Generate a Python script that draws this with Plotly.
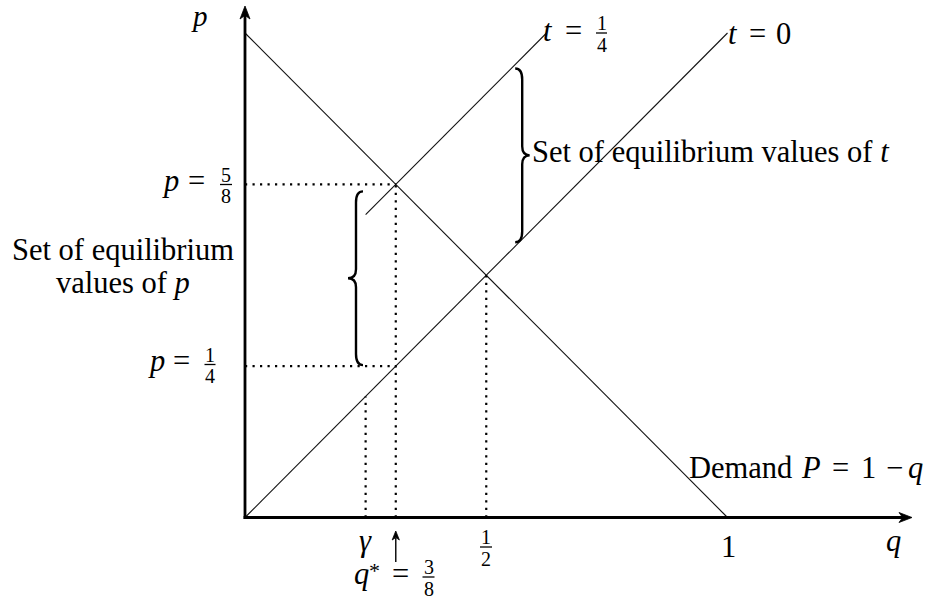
import plotly.graph_objects as go

# ---------------- data (as drawn) ----------------
q_line = [0.0, 1.0]
demand_p = [1.0, 0.0]            # Demand P = 1 - q
supply0_p = [0.0, 1.0]           # t = 0
supply1_q = [0.25, 0.625]        # t = 1/4 (drawn segment)
supply1_p = [0.625, 1.0]
q_gamma = 0.25
q_star = 0.3125
q_half = 0.5
p_low = 0.3125
p_high = 0.6875
p_half = 0.5
q_brace_t = 0.56                 # where the t-brace spans the two supply lines

# ---------------- pixel <-> data mapping ----------------
W, H = 927, 602
X0, XU = 245.0, 482.5            # pixel of q=0, pixels per unit q
Y0, YU = 517.5, 484.5            # pixel of p=0, pixels per unit p


def qx(px):
    return (px - X0) / XU


def py(px):
    return (Y0 - px) / YU


FONT = "Liberation Serif"
BLACK = "#000000"
MAIN = 30.5

fig = go.Figure()

# main curves
for xs, ys in [(q_line, demand_p), (q_line, supply0_p), (supply1_q, supply1_p)]:
    fig.add_trace(go.Scatter(x=xs, y=ys, mode="lines",
                             line=dict(color="#111", width=1.1), hoverinfo="skip"))

# dotted guide lines
dot = dict(color=BLACK, width=2.2, dash="2.2px,5.3px")
for xs, ys in [
    ([0, q_star], [p_high, p_high]),
    ([0, q_star], [p_low, p_low]),
    ([q_star, q_star], [0, p_high]),
    ([q_gamma, q_gamma], [0, q_gamma]),
    ([q_half, q_half], [0, p_half]),
]:
    fig.add_trace(go.Scatter(x=xs, y=ys, mode="lines", line=dot, hoverinfo="skip"))

shapes = []


def brace(x_end, x_shaft, x_tip, y_top, y_bot, r_end, r_mid):
    ym = (y_top + y_bot) / 2
    return (f"M{x_end},{y_top} Q{x_shaft},{y_top} {x_shaft},{y_top - r_end} "
            f"L{x_shaft},{ym + r_mid} Q{x_shaft},{ym} {x_tip},{ym} "
            f"Q{x_shaft},{ym} {x_shaft},{ym - r_mid} L{x_shaft},{y_bot + r_end} "
            f"Q{x_shaft},{y_bot} {x_end},{y_bot}")


# left brace: set of equilibrium values of p
shapes.append(dict(type="path", xref="x", yref="y",
                   path=brace(qx(363), qx(356), qx(348),
                              p_high - 7 / YU, p_low + 1 / YU, 11 / YU, 9 / YU),
                   line=dict(color=BLACK, width=2.4)))
# right brace: set of equilibrium values of t
tb_top = q_brace_t + (supply1_p[0] - supply1_q[0]) - 4 / YU
tb_bot = q_brace_t + 4 / YU
shapes.append(dict(type="path", xref="x", yref="y",
                   path=brace(q_brace_t, q_brace_t + 7 / XU, q_brace_t + 14.5 / XU,
                              tb_top, tb_bot, 11 / YU, 9 / YU),
                   line=dict(color=BLACK, width=2.4)))


def head(tip_x, tip_y, direction, length, half):
    """LaTeX-like arrow head (filled), tip in data coords, sizes in px."""
    tx, ty = tip_x, tip_y
    if direction == "right":
        pts = [(tx, ty), (tx - length / XU, ty + half / YU),
               (tx - 0.72 * length / XU, ty), (tx - length / XU, ty - half / YU)]
    else:  # up
        pts = [(tx, ty), (tx - half / XU, ty - length / YU),
               (tx, ty - 0.72 * length / YU), (tx + half / XU, ty - length / YU)]
    path = "M" + " L".join(f"{a},{b}" for a, b in pts) + " Z"
    return dict(type="path", xref="x", yref="y", path=path,
                fillcolor=BLACK, line=dict(color=BLACK, width=0.8))


# axes lines
shapes.append(dict(type="line", xref="x", yref="y", x0=qx(X0 - 1.4), y0=0,
                   x1=qx(904), y1=0, line=dict(color=BLACK, width=2.8)))
shapes.append(dict(type="line", xref="x", yref="y", x0=0, y0=py(Y0 + 1.4),
                   x1=0, y1=py(14), line=dict(color=BLACK, width=2.8)))
shapes.append(head(qx(912), 0, "right", 13, 5))
shapes.append(head(0, py(6), "up", 13, 5))
# q* arrow
shapes.append(dict(type="line", xref="x", yref="y", x0=q_star, y0=py(562),
                   x1=q_star, y1=py(538), line=dict(color=BLACK, width=1.4)))
shapes.append(head(q_star, py(531), "up", 9, 3.6))

annotations = []


def txt(s, xc, base, size=MAIN, anchor="center"):
    annotations.append(dict(text=s, x=qx(xc), y=py(base - 0.3375 * size),
                            xref="x", yref="y", showarrow=False,
                            xanchor=anchor, yanchor="middle",
                            font=dict(family=FONT, size=size, color=BLACK)))


def frac(num, den, xc, bar, size=20, half=6.0):
    txt(num, xc, bar - 3, size)
    txt(den, xc, bar + 18.5, size)
    shapes.append(dict(type="line", xref="x", yref="y",
                       x0=qx(xc - half), x1=qx(xc + half), y0=py(bar), y1=py(bar),
                       line=dict(color=BLACK, width=1.3)))


# axis labels
txt("<i>p</i>", 199, 26, size=29)
txt("<i>q</i>", 893, 551.5)
txt("1", 728, 557)
frac("1", "2", 486, 547)
txt("<i>γ</i>", 365, 551)

# q* = 3/8
txt("<i>q</i>", 361, 584)
txt("*", 374, 578, size=22)
txt("=", 400, 584)
frac("3", "8", 428.5, 577)

# t = 1/4 and t = 0
txt("<i>t</i>", 548, 41)
txt("=", 573, 41)
frac("1", "4", 601.5, 33, half=5.5)
txt("<i>t</i>", 733, 44)
txt("=", 757, 44)
txt("0", 783, 44)

# p = 5/8 and p = 1/4
txt("<i>p</i>", 170, 191.5)
txt("=", 196, 191.5)
frac("5", "8", 226, 184.5)
txt("<i>p</i>", 156.5, 371.5)
txt("=", 181, 371.5)
frac("1", "4", 210, 364.5, half=5.5)

# descriptive labels
txt("Set of equilibrium", 123, 260)
txt("values of <i>p</i>", 123, 293)
txt("Set of equilibrium values of <i>t</i>", 530, 162, anchor="left")
txt("Demand", 687, 478, anchor="left")
txt("<i>P</i>", 811, 478)
txt("=", 840.5, 478)
txt("1", 868, 478)
txt("−", 894, 478)
txt("<i>q</i>", 915.5, 478)

fig.update_layout(
    width=W, height=H,
    margin=dict(l=0, r=0, t=0, b=0),
    paper_bgcolor="white", plot_bgcolor="white",
    showlegend=False,
    xaxis=dict(range=[qx(0), qx(W)], visible=False, fixedrange=True),
    yaxis=dict(range=[py(H), py(0)], visible=False, fixedrange=True),
    shapes=shapes,
    annotations=annotations,
)

fig.write_html("out.html", config={"displayModeBar": False},
               post_script="document.body.style.margin='0';"
                           "document.body.style.overflow='hidden';")
